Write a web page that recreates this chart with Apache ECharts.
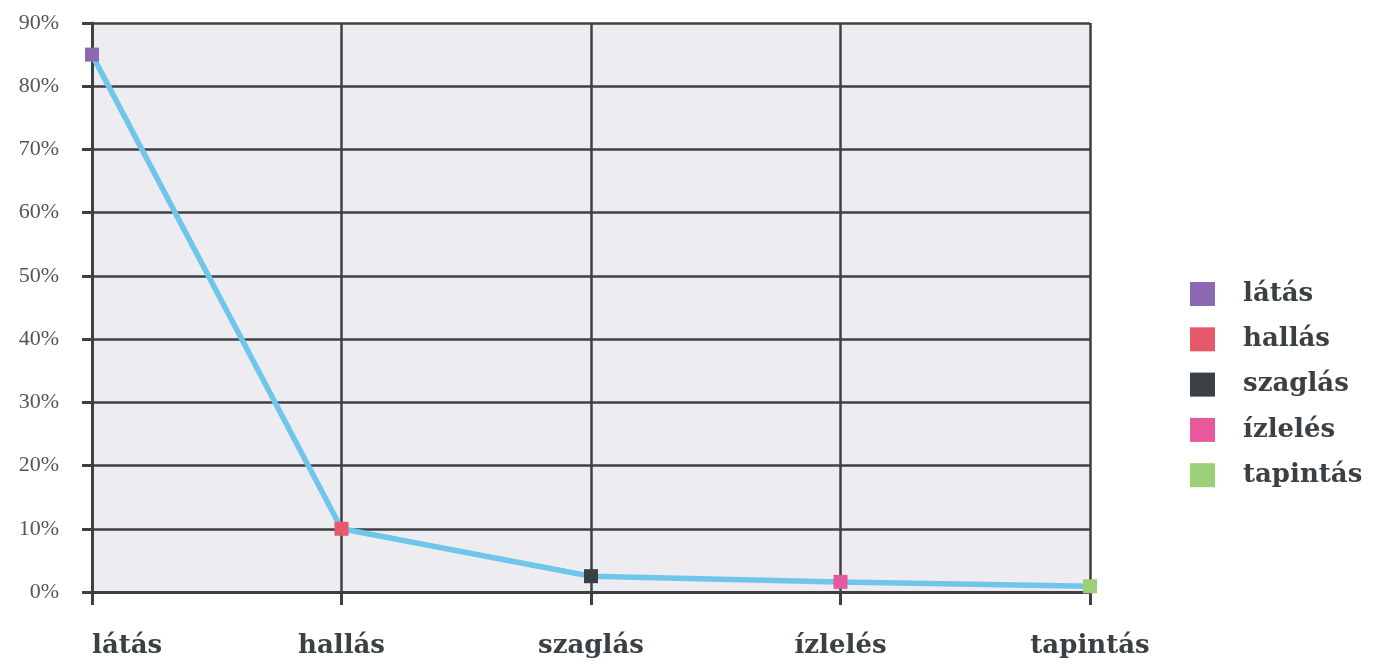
<!DOCTYPE html>
<html><head><meta charset="utf-8">
<script src="https://cdn.jsdelivr.net/npm/echarts@6/dist/echarts.min.js"></script>
<style>html,body{margin:0;padding:0;background:#fff}#c{width:1380px;height:666px}</style>
</head><body><div id="c"></div>
<script>
const categories = ['látás', 'hallás', 'szaglás', 'ízlelés', 'tapintás'];
const values = [85, 10, 2.5, 1.6, 0.9];
const markerColors = ['#8a68b2', '#e5596a', '#3b4044', '#e8589c', '#9ccf78'];
const yTicks = [0, 10, 20, 30, 40, 50, 60, 70, 80, 90];

const chart = echarts.init(document.getElementById('c'));
const serif = '"Liberation Serif", "DejaVu Serif", serif';
const boldSerif = '"DejaVu Serif", "Liberation Serif", serif';
const legendSeries = categories.map((c, i) => ({
  name: c, type: 'scatter', data: [], itemStyle: { color: markerColors[i], opacity: 1 }
}));
chart.setOption({
  animation: false,
  backgroundColor: '#ffffff',
  grid: { left: 92, right: 290, top: 23, bottom: 74, show: true, backgroundColor: '#ededf1', borderWidth: 0 },
  legend: {
    orient: 'vertical', left: 1190, top: 281, padding: 0, itemWidth: 25, itemHeight: 24, itemGap: 19.3,
    icon: 'rect',
    data: categories,
    textStyle: { fontFamily: boldSerif, fontWeight: 'bold', fontSize: 26, color: '#3b4044', padding: [0, 0, 0, 23] }
  },
  xAxis: {
    type: 'category', data: categories, boundaryGap: false,
    axisLine: { lineStyle: { color: '#3e4042', width: 3 } },
    axisTick: { show: true, length: 13, lineStyle: { color: '#3e4042', width: 3 } },
    splitLine: { show: true, lineStyle: { color: '#3e4042', width: 2.5 } },
    axisLabel: { margin: 41, alignMinLabel: 'left', fontFamily: boldSerif, fontWeight: 'bold', fontSize: 26, color: '#3b4044' }
  },
  yAxis: {
    type: 'value', min: yTicks[0], max: yTicks[yTicks.length - 1], interval: 10,
    axisLine: { show: true, lineStyle: { color: '#3e4042', width: 3 } },
    axisTick: { show: true, length: 10, lineStyle: { color: '#3e4042', width: 3 } },
    splitLine: { show: true, lineStyle: { color: '#3e4042', width: 2.5 } },
    axisLabel: { margin: 33, formatter: '{value}%', fontFamily: serif, fontSize: 22, color: '#555558' }
  },
  series: [{
    name: 'érzékek', type: 'line', data: values.map((v, i) => ({ value: v, itemStyle: { color: markerColors[i] } })),
    symbol: 'rect', symbolSize: 14, showSymbol: true,
    lineStyle: { color: '#6fc6ea', width: 5.5 },
    z: 5
  }].concat(legendSeries)
});
</script></body></html>
